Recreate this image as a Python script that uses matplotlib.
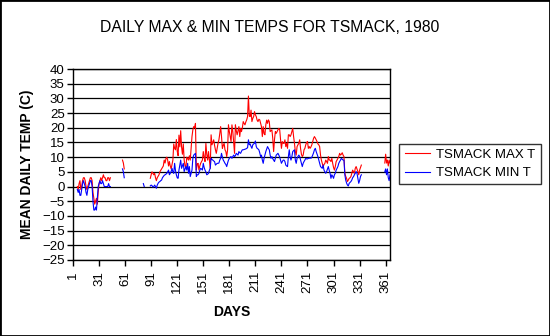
import matplotlib
matplotlib.use("Agg")
import matplotlib.pyplot as plt
from matplotlib.patches import Rectangle
import numpy as np

plt.rcParams['font.family'] = ['Liberation Sans', 'DejaVu Sans']

N_DAYS = 366

# Daily max temps, one list per unbroken run of readings (first day noted)
max_jan = [0, -1, 1, 2, -1, 0, 2, 3, 3, 2,        # day 6
           0, -1, 0, 1, 2, 3, 3, 2, -2, -4,
           -6, -5, -4, -6, -2, 1, 2, 3, 2, 3,
           4, 3, 3, 2, 2, 3, 3, 2, 3]
max_feb = [9, 8, 6]                                # day 58
max_season = [                                     # day 90
    2.8, 4, 5, 4.5, 4, 4.5, 3, 2, 3, 3.5,
    4, 5, 5.5, 6, 6.5, 7, 9, 8, 9.5, 10,
    9, 7, 8.5, 7, 6, 7.5, 9, 14.5, 13, 12.5,
    16, 12, 10.5, 17.5, 13.5, 19, 13.5, 11, 14.5, 9,
    7, 6.5, 10, 9.5, 9, 10.5, 9, 13, 17, 19.3,
    20.4, 20, 21.5, 5.6, 7.5, 7.9, 5.6, 7, 7.9, 8.5,
    9, 11.9, 10, 8.5, 14.7, 11, 9, 11.9, 9, 6.2,
    17.6, 14.2, 15, 15.9, 14, 12.5, 11.3, 13, 14.7, 15.9,
    18, 20.4, 17, 13, 14, 14.7, 12.5, 11.9, 10.2, 12.5,
    21, 18.7, 17, 15.3, 21, 18.7, 15, 11.3, 21, 19,
    17.6, 19, 20.4, 17, 19.8, 18.7, 20, 22.1, 21.5, 21,
    22, 22.7, 23.8, 30.8, 24, 23.8, 26, 22.1, 23.2, 23.8,
    25.5, 24.4, 23.8, 22.6, 22.1, 22.9, 22.7, 21.5, 20.4, 17,
    20.4, 18, 17.6, 21, 22.6, 21.5, 22.7, 22.1, 18.7, 19,
    19.3, 16.4, 11.9, 16, 18.7, 18.1, 18.7, 19.3, 19.8, 19.3,
    15.9, 13, 15.3, 14.7, 14.7, 15.9, 13.6, 14.7, 13, 17.6,
    17.6, 17, 17.6, 18.7, 19.8, 17, 14.7, 11.9, 10.7, 13.6,
    14.2, 14.7, 15.9, 13, 11, 10.2, 10.7, 12.5, 13, 14.2,
    15, 15.3, 13, 13.6, 13, 13.5, 14.2, 15.3, 16.4, 17,
    16.5, 15.9, 15.3, 14.5, 14.2, 13.6, 10.7, 9, 7.9, 6.8,
    7.5, 7.9, 9, 8.5, 7.9, 10.2, 9, 9, 8.5, 9.6,
    7.9, 6.5, 5.6, 6.8, 8.5, 9, 9.6, 10.2, 11.3, 10.7,
    11, 11.5, 10.7, 10.2, 4.5, 3.5, 2.8, 1.7, 2.2, 2.8,
    3, 3.4, 4.5, 5.6, 5, 4.5, 6.2, 6.8, 6, 5.1,
    4, 5.6, 6.5, 7.3]
max_dec = [8, 11, 8, 9, 7, 9, 8]                   # day 360

# Daily min temps
min_jan = [-1, -2, -1, -3, -3, -1, 1, 2, 1, 0,     # day 6
           -2, -3, -1, 0, 1, 2, 2, 0, -5, -8,
           -8, -7, -8, -4, 0, 1, 2, 1, 1, 2,
           1, 0, 0, 0, 0, 0, 1, 0, 0]
min_feb = [6, 5, 3]                                # day 58
min_mar = [1, 0]                                   # day 82
min_season = [                                     # day 90
    0.2, 0.5, 0.3, -0.2, 0, 0.5, 0, -0.6, 0.5, 1.1,
    1.5, 1.7, 2, 2.2, 3, 3.4, 3.8, 4, 4.2, 4.5,
    5, 5.6, 4, 4.5, 5.1, 6.2, 5, 4.5, 7.9, 5.5,
    4, 3, 2.8, 5.6, 7.3, 9, 6.2, 7, 7.9, 5.1,
    6, 6.8, 5.6, 7.9, 4.5, 6.8, 3.4, 4.5, 5.6, 9.6,
    10.7, 11, 11.3, 3.4, 4, 4, 4.5, 5.5, 6.2, 6,
    5.6, 7.9, 6.5, 5.6, 5, 4, 4.2, 4.5, 5.5, 6.2,
    9.6, 9.2, 9, 8.7, 8.5, 7.3, 7.6, 7.9, 7.9, 8,
    9, 9.6, 11.3, 10, 9, 8.5, 7.9, 7.5, 6.8, 8,
    9, 9.6, 10, 10.2, 9.6, 10.2, 10.7, 10.2, 10.5, 11.3,
    11, 10.7, 11.9, 11.5, 11.3, 12, 12.5, 12.5, 12.6, 12.7,
    12.8, 13, 13.2, 15.9, 14.2, 14.5, 13.6, 13, 14.2, 14.5,
    14.7, 15.5, 13.6, 13, 12.8, 12.5, 11.5, 10.2, 10.7, 9,
    7.9, 9.6, 10.8, 11.9, 12.8, 13.6, 13, 12.5, 10.7, 9.6,
    10.2, 9.5, 9, 8.5, 9.6, 10.7, 11, 11.3, 10.7, 10,
    9, 7.9, 8.5, 9, 9, 8.5, 7.3, 7, 6.8, 10.2,
    12.5, 10, 9, 10.2, 11.9, 12.2, 12.5, 9, 7.9, 9.6,
    10.2, 10.7, 10.2, 9, 7.9, 6.8, 7.9, 8.5, 9, 9.6,
    9.4, 9.4, 9.6, 9.6, 9.8, 9.6, 10, 10.7, 11.5, 12.5,
    13, 11.9, 11, 10.2, 9, 7.9, 6.8, 6.5, 6.2, 7.3,
    5.6, 5, 4.5, 5.1, 6, 6.8, 5.5, 4.5, 2.8, 4,
    3.5, 2.8, 4, 4.5, 5.6, 6.2, 6.8, 7.9, 8.5, 9,
    9.6, 9.3, 9, 9, 4, 2.2, 1.2, 0.5, 0.2, 1.1,
    1.4, 1.7, 2.2, 3, 3.4, 4, 4.5, 5.1, 4.5, 2.8,
    1.1, 2, 3.4, 4]
min_dec = [5, 6, 4, 6, 3, 2, 4]                    # day 360

x_ticks = list(range(1, 362, 30))
y_ticks = list(range(-25, 41, 5))


def fill_year(runs):
    arr = np.full(N_DAYS, np.nan)
    for start, vals in runs:
        arr[start - 1:start - 1 + len(vals)] = vals
    return arr


days = np.arange(1, N_DAYS + 1)
tmax = fill_year([(6, max_jan), (58, max_feb), (90, max_season), (360, max_dec)])
tmin = fill_year([(6, min_jan), (58, min_feb), (82, min_mar),
                  (90, min_season), (360, min_dec)])

fig = plt.figure(figsize=(5.5, 3.36), dpi=100)
ax = fig.add_axes([73 / 550, 1 - 260 / 336, 317 / 550, 191 / 336])

ax.plot(days, tmax, color='#ff0000', lw=0.8, label='TSMACK MAX T')
ax.plot(days, tmin, color='#0000ff', lw=0.8, label='TSMACK MIN T')

ax.set_xlim(1, 366)
ax.set_ylim(-25, 40)
ax.set_yticks(y_ticks)
ax.set_xticks(x_ticks)
ax.set_xticklabels([str(t) for t in x_ticks], rotation=90)
ax.yaxis.grid(True, color='black', lw=0.9)
ax.set_axisbelow(True)
for s in ax.spines.values():
    s.set_color('black')
    s.set_linewidth(1.0)
ax.tick_params(axis='both', direction='out', length=4, width=1,
               labelsize=9.5, pad=2, colors='black')
ax.tick_params(axis='x', pad=4)

ax.set_ylabel('MEAN DAILY TEMP (C)', fontsize=10, fontweight='bold', labelpad=6)
ax.set_xlabel('DAYS', fontsize=10, fontweight='bold', labelpad=8)
fig.text(0.49, 1 - 28 / 336, 'DAILY MAX & MIN TEMPS FOR TSMACK, 1980',
         ha='center', va='center', fontsize=11.3)

leg = fig.legend(loc='center', bbox_to_anchor=(470 / 550, 1 - 164 / 336),
                 fontsize=9.5, frameon=True, fancybox=False, handlelength=1.9,
                 borderpad=0.4, labelspacing=0.45, handletextpad=0.5,
                 borderaxespad=0)
leg.get_frame().set_edgecolor('black')
leg.get_frame().set_linewidth(1.0)

fig.patches.append(Rectangle((0, 0), 1, 1, transform=fig.transFigure,
                             fill=False, edgecolor='black', lw=2))

fig.savefig('out.png', dpi=100)
